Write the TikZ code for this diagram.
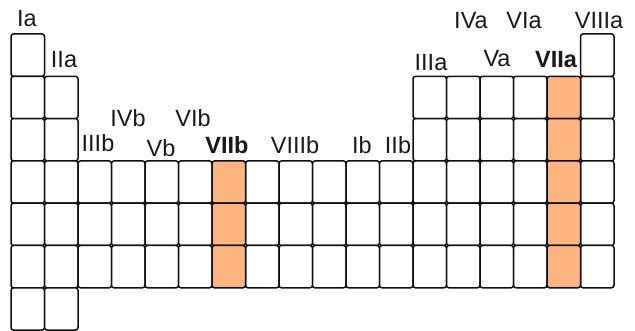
\documentclass[tikz,border=0pt]{standalone}
\usepackage{fontspec}
\setmainfont{Liberation Sans}
\definecolor{halo}{RGB}{253,180,127}
\definecolor{edge}{RGB}{15,15,15}
\tikzset{
  cell/.style={draw=edge, line width=1.5pt, rounded corners=2.5pt, minimum width=33.5pt, minimum height=42.3pt, inner sep=0pt, outer sep=0pt, fill=white},
  hl/.style={cell, fill=halo},
  lab/.style={font=\fontsize{23.5}{23.5}\selectfont, inner sep=0pt, text=black!90},
  blab/.style={lab, font=\fontsize{23.5}{23.5}\selectfont\bfseries}
}
\newcommand\pcell[3]{\node[#3] (c#1r#2) at ({11+(#1-0.5)*33.5},{-(34+(#2-0.5)*42.3)}) {};}
\begin{document}
\begin{tikzpicture}[x=1pt,y=1pt]
\useasboundingbox (0,0) rectangle (635,-331);
% column 1 and 2
\foreach \j in {1,...,7} {\pcell{1}{\j}{cell}}
\foreach \j in {2,...,7} {\pcell{2}{\j}{cell}}
% transition block
\foreach \i in {3,4,5,6,8,9,10,11,12} {\foreach \j in {4,5,6} {\pcell{\i}{\j}{cell}}}
\foreach \j in {4,5,6} {\pcell{7}{\j}{hl}}
% p block
\foreach \i in {13,14,15,16,18} {\foreach \j in {2,...,6} {\pcell{\i}{\j}{cell}}}
\foreach \j in {2,...,6} {\pcell{17}{\j}{hl}}
\pcell{18}{1}{cell}
% labels
\node[lab] (Ia) at (27,-19) {Ia};
\node[lab] (IIa) at (64,-60) {IIa};
\node[lab] (IIIb) at (98,-143) {IIIb};
\node[lab] (IVb) at (128,-118) {IVb};
\node[lab] (Vb) at (161,-148) {Vb};
\node[lab] (VIb) at (193,-118) {VIb};
\node[blab] (VIIb) at (227,-145) {VIIb};
\node[lab] (VIIIb) at (295,-145) {VIIIb};
\node[lab] (Ib) at (362,-145) {Ib};
\node[lab] (IIb) at (398,-145) {IIb};
\node[lab] (IIIa) at (431,-63) {IIIa};
\node[lab] (IVa) at (471,-21) {IVa};
\node[lab] (Va) at (497,-59) {Va};
\node[lab] (VIa) at (524,-21) {VIa};
\node[blab] (VIIa) at (556,-60) {VIIa};
\node[lab] (VIIIa) at (599,-21) {VIIIa};
\end{tikzpicture}
\end{document}
